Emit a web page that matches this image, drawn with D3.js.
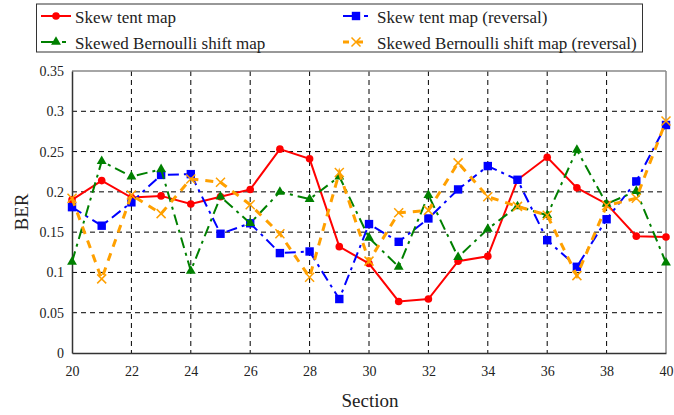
<!DOCTYPE html>
<html><head><meta charset="utf-8">
<script src="https://cdn.jsdelivr.net/npm/d3@7"></script>
<style>body{margin:0;background:#fff}svg{display:block}svg text{font-family:"Liberation Serif","Times New Roman",serif !important;fill:#222}</style>
</head><body><svg id="c" width="674" height="415"></svg>
<script>
const sections = d3.range(20, 41);
const skewTent = [0.19,0.214,0.193,0.195,0.185,0.194,0.203,0.253,0.241,0.132,0.111,0.064,0.067,0.114,0.120,0.215,0.243,0.205,0.185,0.145,0.144];
const skewTentRev = [0.181,0.158,0.187,0.221,0.222,0.148,0.161,0.124,0.126,0.067,0.160,0.138,0.167,0.203,0.232,0.215,0.140,0.107,0.166,0.213,0.283];
const bernoulli = [0.113,0.238,0.219,0.228,0.102,0.194,0.161,0.200,0.191,0.219,0.143,0.107,0.196,0.119,0.154,0.182,0.171,0.252,0.185,0.201,0.112];
const bernoulliRev = [0.192,0.092,0.196,0.173,0.216,0.212,0.184,0.148,0.094,0.224,0.114,0.174,0.177,0.236,0.194,0.182,0.171,0.096,0.183,0.192,0.288];
const yTicks = [0,0.05,0.1,0.15,0.2,0.25,0.3,0.35];
const xTicks = [20,22,24,26,28,30,32,34,36,38,40];

const series = [
  {name:"Skew tent map", values:skewTent, color:"#ff0000", dash:null, width:2, marker:"circle"},
  {name:"Skew tent map (reversal)", values:skewTentRev, color:"#0000ff", dash:"11,5,3,5", width:2, marker:"square"},
  {name:"Skewed Bernoulli shift map", values:bernoulli, color:"#008000", dash:"11,5,3,5", width:2, marker:"triangle"},
  {name:"Skewed Bernoulli shift map (reversal)", values:bernoulliRev, color:"#ffa000", dash:"8,7", width:3, marker:"x"}
];

const svg = d3.select("#c");
const L=72, R=666, T=71, B=353;
const x = d3.scaleLinear().domain([20,40]).range([L,R]);
const y = d3.scaleLinear().domain([0,0.35]).range([B,T]);

// grid
const g = svg.append("g");
g.selectAll(".hg").data(yTicks.filter(v=>v>0 && v<0.35)).join("line")
  .attr("x1",L).attr("x2",R).attr("y1",d=>y(d)).attr("y2",d=>y(d))
  .attr("stroke","#000").attr("stroke-width",1).attr("stroke-dasharray","5,4");
g.selectAll(".vg").data(xTicks.filter(v=>v>20 && v<40)).join("line")
  .attr("y1",T).attr("y2",B).attr("x1",d=>x(d)).attr("x2",d=>x(d))
  .attr("stroke","#000").attr("stroke-width",1).attr("stroke-dasharray","5,4");
// frame
svg.append("line").attr("x1",L).attr("x2",R).attr("y1",T).attr("y2",T).attr("stroke","#888").attr("stroke-width",1.5);
svg.append("line").attr("x1",R).attr("x2",R).attr("y1",T).attr("y2",B).attr("stroke","#888").attr("stroke-width",1.5);

// axes
const yAxis = d3.axisLeft(y).tickValues(yTicks).tickSize(0).tickPadding(8).tickFormat(d=>d===0?"0":String(+d.toFixed(2)));
const ya = svg.append("g").attr("transform",`translate(${L},0)`).call(yAxis);
ya.attr("font-family",null);
ya.select(".domain").attr("stroke","#333").attr("stroke-width",1.5);
ya.selectAll("text").attr("font-size",14);
const xAxis = d3.axisBottom(x).tickValues(xTicks).tickSize(0).tickPadding(13).tickFormat(d3.format("d"));
const xa = svg.append("g").attr("transform",`translate(0,${B})`).call(xAxis);
xa.attr("font-family",null);
xa.select(".domain").attr("stroke","#333").attr("stroke-width",1.5);
xa.selectAll("text").attr("font-size",14);

svg.append("text").attr("x",370).attr("y",407).attr("text-anchor","middle").attr("font-size",19).text("Section");
svg.append("text").attr("transform","translate(28,212) rotate(-90)").attr("text-anchor","middle").attr("font-size",19).text("BER");

function drawMarker(sel, type, color){
  if(type==="circle") sel.append("circle").attr("r",3.8).attr("fill",color);
  else if(type==="square") sel.append("rect").attr("x",-4.2).attr("y",-4.2).attr("width",8.4).attr("height",8.4).attr("fill",color);
  else if(type==="triangle") sel.append("path").attr("d",d3.symbol(d3.symbolTriangle,42)()).attr("fill",color);
  else if(type==="x") sel.append("path").attr("d","M-4.5,-4.5L4.5,4.5M-4.5,4.5L4.5,-4.5").attr("stroke",color).attr("stroke-width",1.5).attr("fill","none");
}

const line = d3.line().x((d,i)=>x(sections[i])).y(d=>y(d));
series.forEach(s=>{
  const p = svg.append("path").datum(s.values).attr("d",line).attr("fill","none")
    .attr("stroke",s.color).attr("stroke-width",s.width);
  if(s.dash) p.attr("stroke-dasharray",s.dash);
  s.values.forEach((v,i)=>{
    const m = svg.append("g").attr("transform",`translate(${x(sections[i])},${y(v)})`);
    drawMarker(m, s.marker, s.color);
  });
});

// legend
const lg = svg.append("g");
lg.append("rect").attr("x",36.5).attr("y",4).attr("width",606).attr("height",48).attr("fill","#fff").attr("stroke","#333").attr("stroke-width",1);
const pos = [[41,16,30,4],[343,16,26,8],[41,42,30,4],[343,42,26,8]];
const legDash = [null,"16,5,4","16,5,4","6,8"];
series.forEach((s,i)=>{
  const [lx,ly,len,gap]=pos[i];
  const l = lg.append("line").attr("x1",lx).attr("x2",lx+len).attr("y1",ly).attr("y2",ly).attr("stroke",s.color).attr("stroke-width",s.width);
  if(legDash[i]) l.attr("stroke-dasharray",legDash[i]);
  const m = lg.append("g").attr("transform",`translate(${lx+len/2},${ly})`);
  drawMarker(m,s.marker,s.color);
  lg.append("text").attr("x",lx+len+gap).attr("y",ly+6.5).attr("font-size",17).text(s.name);
});
</script></body></html>
